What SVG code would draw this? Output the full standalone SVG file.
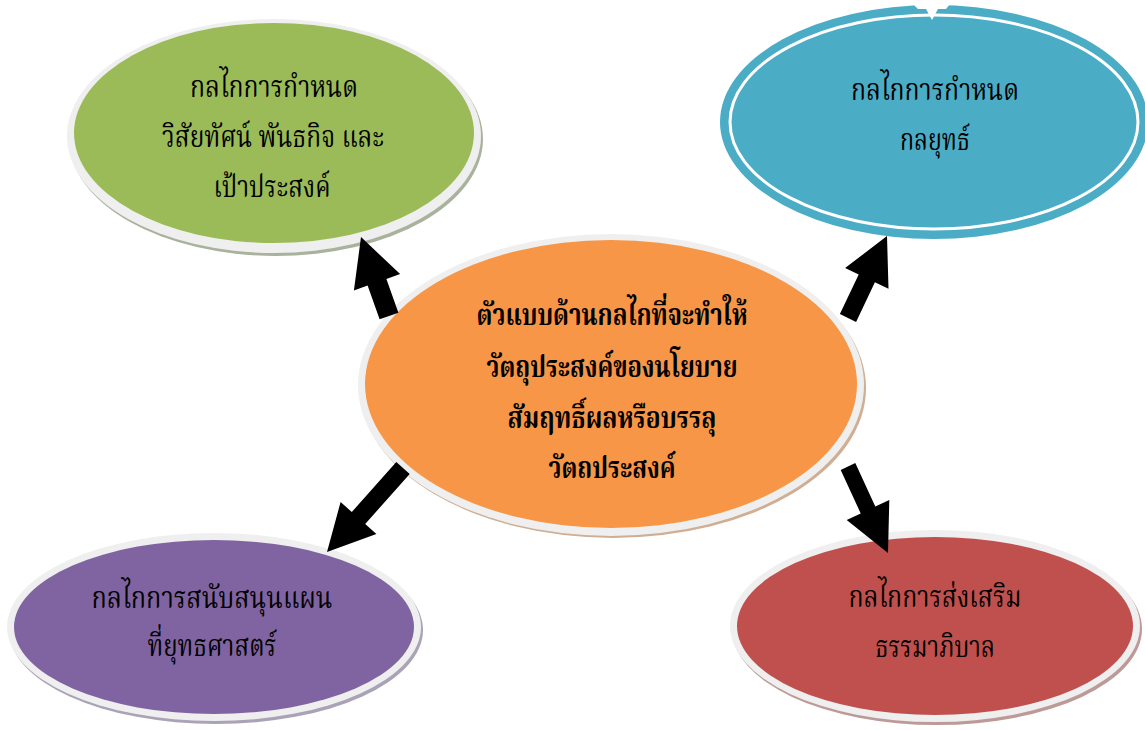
<svg xmlns="http://www.w3.org/2000/svg" width="1145" height="730" viewBox="0 0 1145 730">
<style>
.t{font-family:"Noto Serif Thai","Noto Sans Thai","Noto Sans","DejaVu Sans",serif;font-size:30px;fill:#000;text-anchor:middle}
.b{font-weight:bold}
.rim{fill:#efefef}
</style>
<rect width="1145" height="730" fill="#fff"/>
<g id="node-green">
<ellipse cx="276" cy="139" rx="207" ry="117" fill="#a9b29c"/>
<ellipse cx="274" cy="136" rx="207" ry="117" class="rim"/>
<ellipse cx="274" cy="133" rx="200" ry="110" fill="#9bbb59"/>
<text class="t" x="274" y="97" textLength="168" lengthAdjust="spacingAndGlyphs">กลไกการกำหนด</text>
<text class="t" x="273" y="147" textLength="222" lengthAdjust="spacingAndGlyphs">วิสัยทัศน์ พันธกิจ และ</text>
<text class="t" x="272" y="197" textLength="117" lengthAdjust="spacingAndGlyphs">เป้าประสงค์</text>
</g>
<g id="node-blue">
<ellipse cx="934" cy="122" rx="214" ry="117" fill="#4bacc6"/>
<ellipse cx="934" cy="122" rx="204" ry="107" fill="none" stroke="#fff" stroke-width="3"/>
<path d="M913,4 L950,4 L946,9 L938,9 L932,20 L926,9 L918,9 Z" fill="#fff"/>
<text class="t" x="935" y="100" textLength="168" lengthAdjust="spacingAndGlyphs">กลไกการกำหนด</text>
<text class="t" x="935" y="150" textLength="70" lengthAdjust="spacingAndGlyphs">กลยุทธ์</text>
</g>
<g id="node-center">
<ellipse cx="613" cy="388" rx="253" ry="150" fill="#cfae94"/>
<ellipse cx="611" cy="385" rx="253" ry="151" class="rim"/>
<ellipse cx="611" cy="384" rx="246" ry="144" fill="#f79646"/>
<text class="t b" x="612" y="325" textLength="271" lengthAdjust="spacingAndGlyphs">ตัวแบบด้านกลไกที่จะทำให้</text>
<text class="t b" x="612" y="377" textLength="251" lengthAdjust="spacingAndGlyphs">วัตถุประสงค์ของนโยบาย</text>
<text class="t b" x="612" y="428" textLength="209" lengthAdjust="spacingAndGlyphs">สัมฤทธิ์ผลหรือบรรลุ</text>
<text class="t b" x="612" y="478" textLength="127" lengthAdjust="spacingAndGlyphs">วัตถประสงค์</text>
</g>
<g id="node-purple">
<ellipse cx="216" cy="630" rx="207" ry="94" fill="#aaa2b6"/>
<ellipse cx="214" cy="627" rx="207" ry="94" class="rim"/>
<ellipse cx="214" cy="627" rx="200" ry="87" fill="#8064a2"/>
<text class="t" x="212" y="608" textLength="241" lengthAdjust="spacingAndGlyphs">กลไกการสนับสนุนแผน</text>
<text class="t" x="212" y="656" textLength="129" lengthAdjust="spacingAndGlyphs">ที่ยุทธศาสตร์</text>
</g>
<g id="node-red">
<ellipse cx="937" cy="629" rx="205" ry="96" fill="#bd9a98"/>
<ellipse cx="935" cy="626" rx="205" ry="96" class="rim"/>
<ellipse cx="935" cy="626" rx="198" ry="89" fill="#c0504d"/>
<text class="t" x="935" y="607" textLength="173" lengthAdjust="spacingAndGlyphs">กลไกการส่งเสริม</text>
<text class="t" x="935" y="657" textLength="120" lengthAdjust="spacingAndGlyphs">ธรรมาภิบาล</text>
</g>
<g id="connectors" fill="#000">
<polygon points="379.6,319.3 367.6,285.6 353.9,290.5 361,237 400.1,274.1 386.4,279 398.4,312.7"/>
<polygon points="839.9,314.1 858.7,274.5 845.1,268.1 887,236 888.5,288.7 874.9,282.3 856.1,321.9"/>
<polygon points="396.3,462 351.8,512 340.6,502 327,552 376.4,534 365.2,524 409.7,474"/>
<polygon points="840.7,469.9 860.7,513.4 846.7,519.9 888,553 889.3,500.1 875.3,506.6 855.3,463.1"/>
</g>
</svg>
